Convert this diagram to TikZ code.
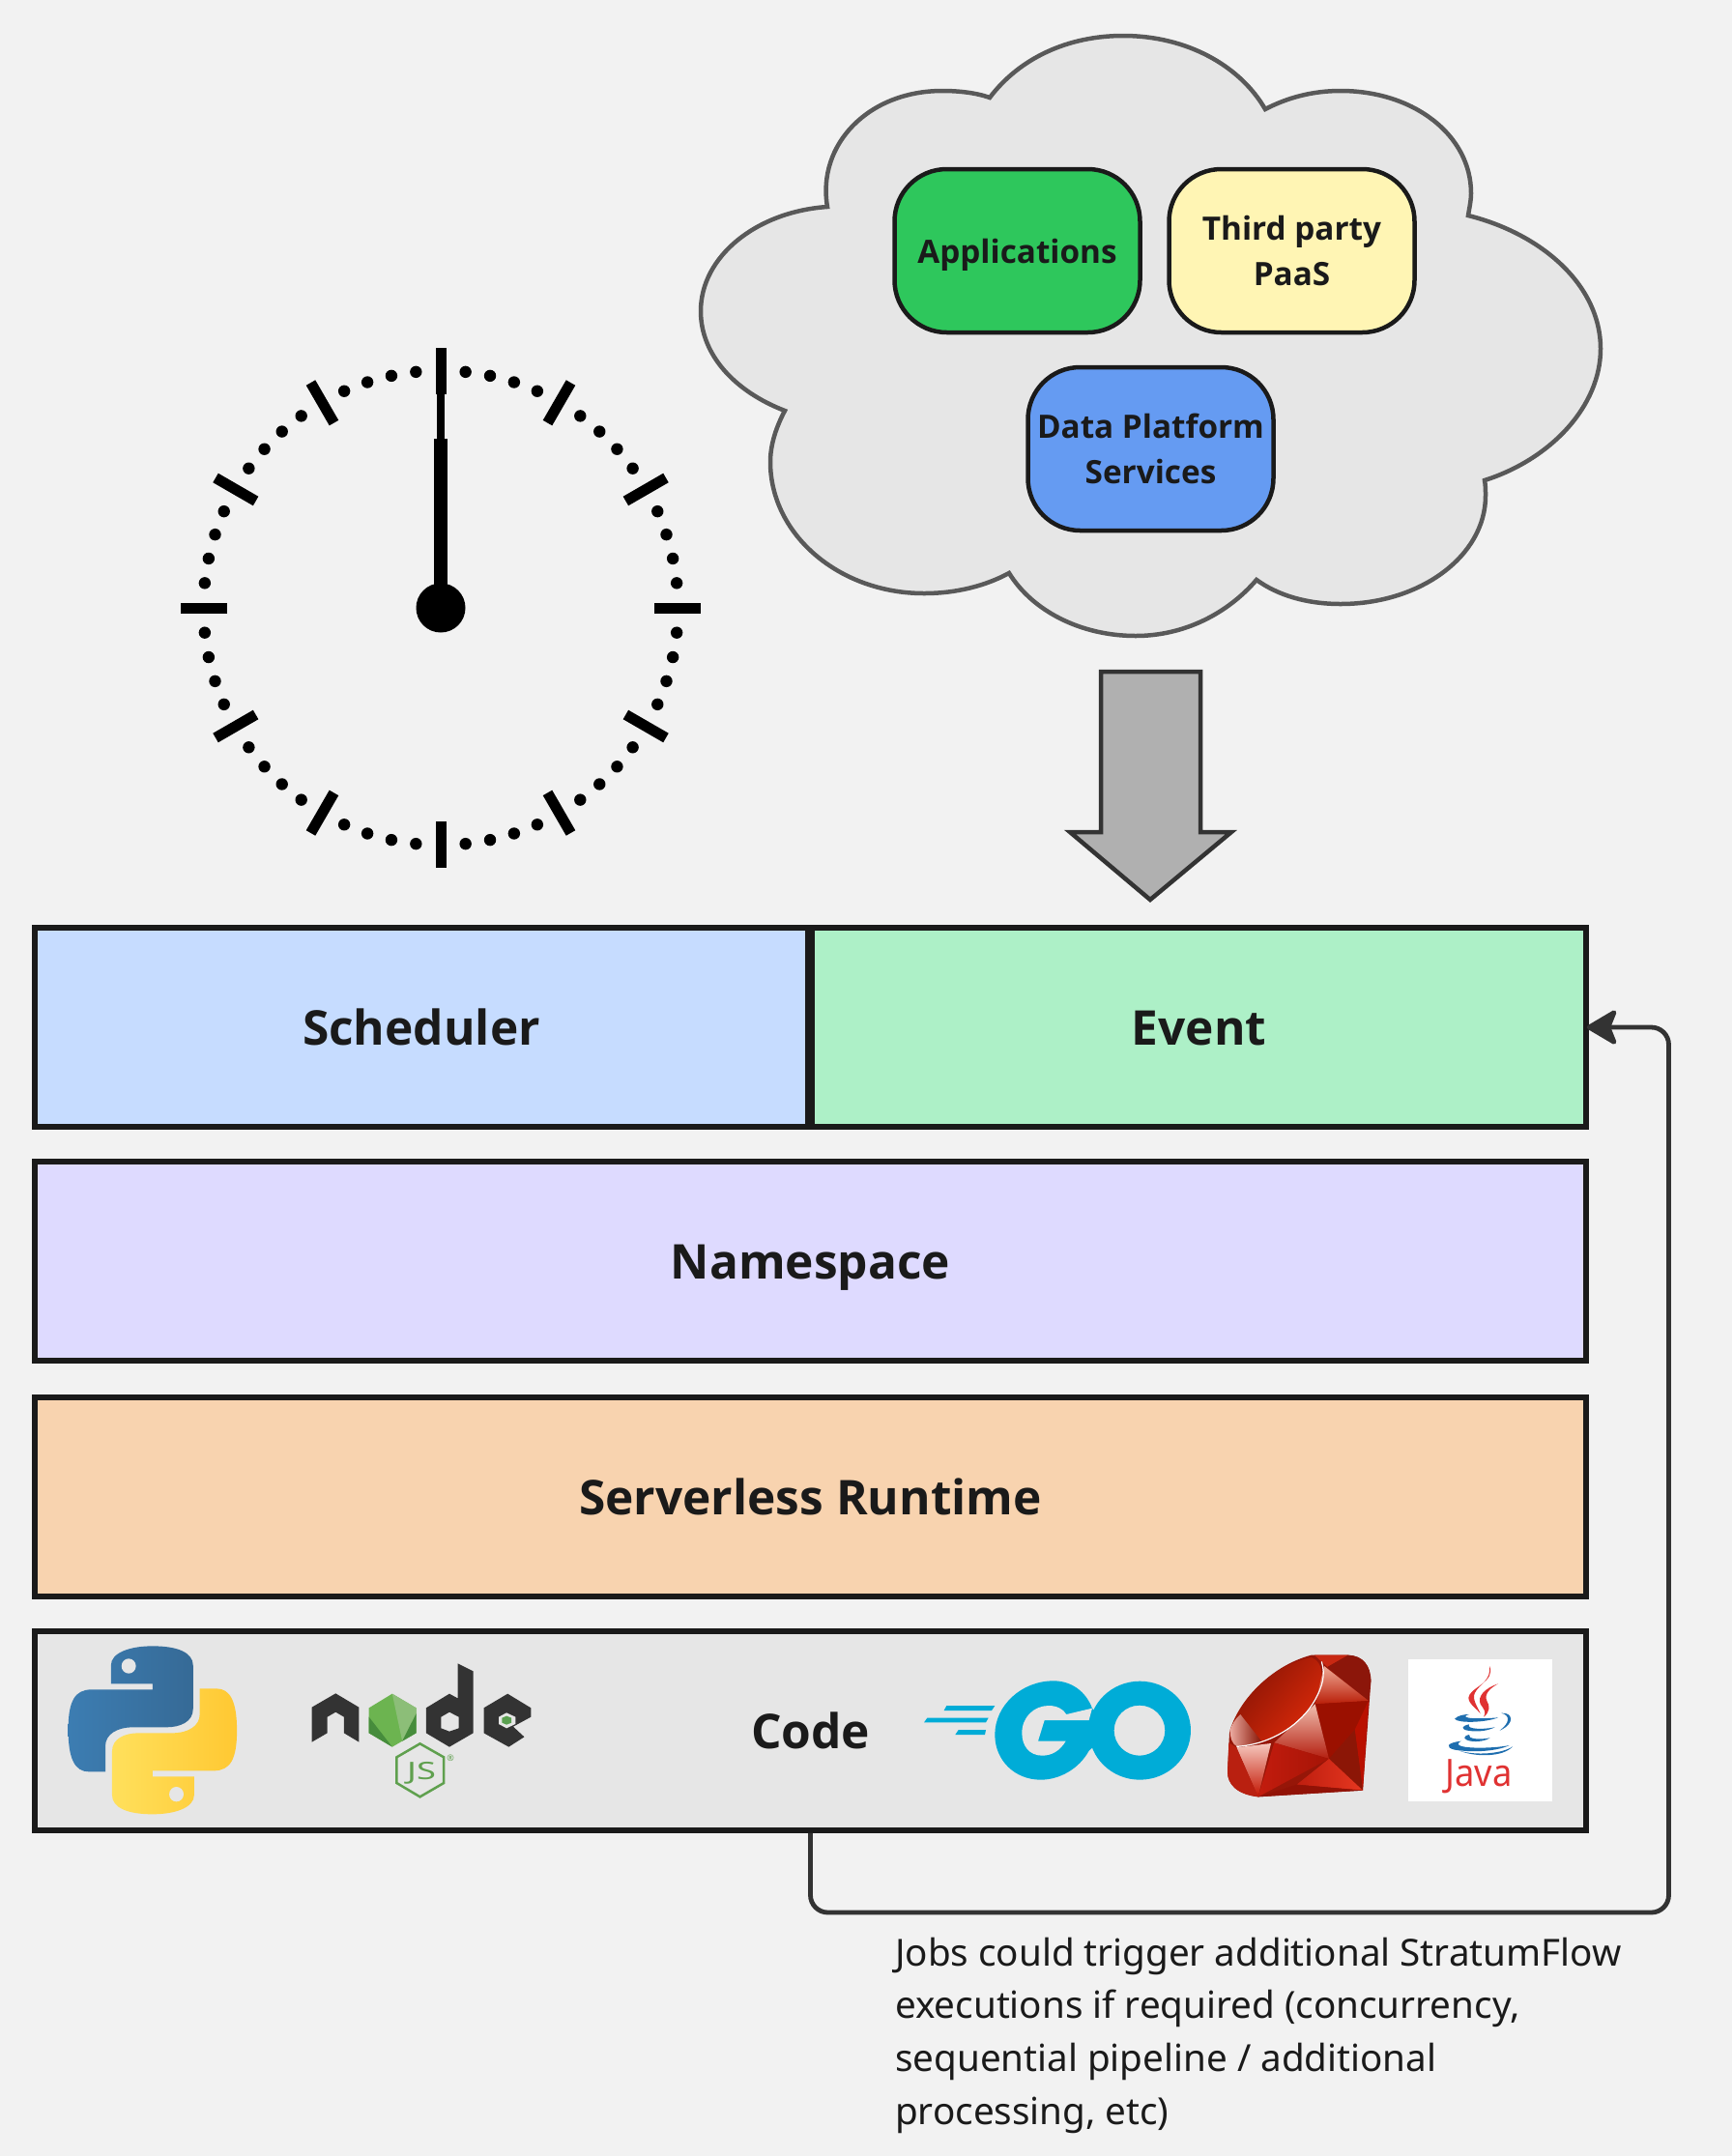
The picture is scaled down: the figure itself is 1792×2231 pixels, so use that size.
\documentclass[tikz,border=0pt]{standalone}
\usepackage{fontspec}
\IfFontExistsTF{Open Sans Bold}{\setmainfont{Noto Sans}[BoldFont={Open Sans Bold}]}{\setmainfont{Noto Sans}[BoldFont={Noto Sans},BoldFeatures={FakeBold=2.2}]}
\usetikzlibrary{arrows.meta,calc}
\definecolor{bgc}{HTML}{F2F2F2}
\definecolor{ink}{HTML}{1A1A1A}
\definecolor{greyfill}{HTML}{E6E6E6}
\definecolor{goc}{HTML}{00ACD7}
\definecolor{nodedark}{HTML}{333333}
\definecolor{nodegreen}{HTML}{5FA04E}
\definecolor{pyb1}{RGB}{60,125,178}
\definecolor{pyb2}{RGB}{54,106,150}
\definecolor{pyy1}{RGB}{255,200,50}
\definecolor{pyy2}{RGB}{255,224,92}
\definecolor{appc}{RGB}{46,199,92}
\definecolor{paasc}{RGB}{255,245,180}
\definecolor{datac}{RGB}{101,155,242}
\definecolor{schedc}{RGB}{198,220,255}
\definecolor{eventc}{RGB}{173,240,199}
\definecolor{nsc}{RGB}{222,218,255}
\definecolor{rtc}{RGB}{248,211,175}
\definecolor{javar}{RGB}{224,50,50}
\definecolor{javab}{RGB}{30,110,175}
\definecolor{n1}{RGB}{108,180,80}
\definecolor{n2}{RGB}{140,190,120}
\definecolor{n3}{RGB}{70,140,60}
\definecolor{n4}{RGB}{90,160,80}
\definecolor{rA}{RGB}{150,22,8}
\definecolor{rB}{RGB}{235,170,160}
\definecolor{rC}{RGB}{135,20,4}
\definecolor{rD}{RGB}{222,42,10}
\definecolor{rE}{RGB}{200,40,18}
\definecolor{rF}{RGB}{140,22,10}
\definecolor{rG}{RGB}{240,170,150}
\definecolor{rH}{RGB}{185,30,8}
\definecolor{rI}{RGB}{155,16,0}
\definecolor{rJ}{RGB}{185,16,0}
\definecolor{rK}{RGB}{140,22,6}
\definecolor{rL}{RGB}{240,190,175}
\definecolor{rM}{RGB}{180,30,15}
\definecolor{rN}{RGB}{195,28,14}
\definecolor{rO}{RGB}{165,20,6}
\definecolor{rP}{RGB}{190,30,15}
\definecolor{rQ}{RGB}{230,55,32}
\definecolor{rR}{RGB}{145,18,6}
\definecolor{rS}{RGB}{245,200,190}
\definecolor{rT}{RGB}{195,20,0}
\definecolor{rU}{RGB}{185,32,16}
\tikzset{
  layer/.style={draw=ink,line width=5.5pt,inner sep=0pt,text=ink,text height=37pt,text depth=0pt,font=\fontsize{49.6}{58}\selectfont\bfseries,align=center},
  pill/.style={draw=ink,line width=4.5pt,rounded corners=54pt,minimum width=254pt,minimum height=169pt,inner sep=0pt,text=ink,font=\fontsize{33.3}{46.5}\selectfont\bfseries,align=center},
  tick/.style={line width=11pt,black},
  pyblue/.style={insert path={(200,247) -- (200,190) .. controls (200,150) and (235,130) .. (275,130) .. controls (320,130) and (348,150) .. (348,190)
  -- (348,325) .. controls (348,365) and (325,382) .. (300,382) -- (240,382) .. controls (210,382) and (190,405) .. (190,440) -- (190,520)
  -- (160,520) .. controls (135,520) and (123,480) .. (123,390) .. controls (123,300) and (135,265) .. (165,265) -- (275,265) -- (275,247) -- cycle}},
}
\begin{document}
\begin{tikzpicture}[x=1pt,y=-1pt]
\fill[bgc] (0,0) rectangle (1792,2231);
\useasboundingbox (0,0) rectangle (1792,2231);

% cloud
\draw[fill=greyfill,draw=black!65,line width=4.5pt,line join=miter]
 (856,214) .. controls (845,150) and (898,94) .. (975,94) .. controls (992,94) and (1010,96) .. (1024,101)
 .. controls (1055,60) and (1105,37) .. (1162,37) .. controls (1228,37) and (1283,68) .. (1309,113)
 .. controls (1332,101) and (1358,94) .. (1387,94) .. controls (1463,94) and (1522,140) .. (1522,200) .. controls (1522,208) and (1520,216) .. (1519,223)
 .. controls (1595,242) and (1656,295) .. (1656,361) .. controls (1656,420) and (1605,475) .. (1536,497)
 .. controls (1537,502) and (1537,508) .. (1537,513) .. controls (1537,575) and (1470,625) .. (1387,625) .. controls (1352,625) and (1322,616) .. (1300,600)
 .. controls (1270,635) and (1225,658) .. (1175,658) .. controls (1118,658) and (1068,632) .. (1044,593)
 .. controls (1020,606) and (990,614) .. (956,614) .. controls (868,614) and (797,553) .. (797,478) .. controls (797,460) and (803,442) .. (812,425)
 .. controls (760,405) and (725,367) .. (725,322) .. controls (725,265) and (783,219) .. (856,214) -- cycle;

\node[pill,fill=appc,text height=25pt,text depth=0pt] (apps) at (1052.5,259.5) {Applications};
\node[pill,fill=paasc] (paas) at (1336.5,259.5) {Third party\\PaaS};
\node[pill,fill=datac] (data) at (1190.5,464.5) {Data Platform\\Services};

% block arrow
\draw[fill=black!31,draw=black!80,line width=4.5pt,line join=miter]
 (1139,695) -- (1242,695) -- (1242,861) -- (1274,861) -- (1190,931) -- (1107,861) -- (1139,861) -- cycle;

% clock
\begin{scope}[shift={(456,629)}]
\foreach \a in {0,6,...,354}{
  \pgfmathtruncatemacro{\m}{mod(\a,30)}
  \ifnum\m=0
    \draw[tick] (\a:221) -- (\a:269);
  \else
    \fill[black] (\a:245.5) circle (6.2);
  \fi
}
\fill[black] (-7.25,-175) rectangle (7.25,0);
\fill[black] (-4,-225) rectangle (4,-170);
\fill[black] (0,0) circle (25.5);
\end{scope}

% layers
\node[layer,fill=schedc,minimum width=800pt,minimum height=206pt] (sched) at (436,1063) {Scheduler};
\node[layer,fill=eventc,minimum width=801pt,minimum height=206pt] (event) at (1240.5,1063) {Event};
\node[layer,fill=nsc,minimum width=1605pt,minimum height=206pt] (ns) at (838.5,1305) {Namespace};
\node[layer,fill=rtc,minimum width=1605pt,minimum height=206pt] (rt) at (838.5,1549) {Serverless Runtime};
\node[layer,fill=greyfill,minimum width=1605pt,minimum height=206pt] (code) at (838.5,1791) {Code};

% python + node (zoom coordinates)
\begin{scope}[shift={(0,1660)},xscale=0.574,yscale=0.3333]
\path[pyblue,left color=pyb1,right color=pyb2];
\fill[greyfill] (232,192) ellipse (13 and 23);
\begin{scope}[shift={(550,782)},xscale=-1,yscale=-1]
\path[pyblue,left color=pyy2,right color=pyy1];
\fill[greyfill] (232,192) ellipse (13 and 23);
\end{scope}
\fill[nodedark] (562,320) -- (605,277) -- (647,320) -- (647,428) -- (620,400) -- (620,350) -- (605,335) -- (590,350) -- (590,400) -- (562,428) -- cycle;
\fill[n1] (707,278) -- (750,322) -- (750,400) -- (707,443) -- (665,400) -- (665,322) -- cycle;
\fill[n2] (707,278) -- (750,322) -- (750,400) -- (725,425) -- cycle;
\fill[n3] (665,350) -- (707,443) -- (665,400) -- cycle;
\fill[n3] (725,425) -- (750,400) -- (750,340) -- cycle;
\fill[nodedark,even odd rule] (768,322) -- (810,278) -- (825,292) -- (825,184) -- (853,208) -- (853,400) -- (810,443) -- (768,400) -- cycle
  (810,335) -- (827,350) -- (827,385) -- (810,395) -- (795,385) -- (795,350) -- cycle;
\fill[nodedark] (872,322) -- (915,278) -- (957,322) -- (957,350) -- (925,380) -- (945,412) -- (917,443) -- (872,400) -- cycle;
\fill[greyfill] (913,337) -- (929,350) -- (929,372) -- (913,385) -- (899,372) -- (899,350) -- cycle;
\fill[n4] (913,347) -- (922,353) -- (922,368) -- (913,374) -- (905,368) -- (905,353) -- cycle;
\draw[nodegreen,line width=2.5pt,line join=miter] (757,433) -- (800,475) -- (800,555) -- (757,598) -- (715,555) -- (715,475) -- cycle;
\end{scope}
\node[text=nodegreen,inner sep=0pt,xscale=1.45,font=\fontsize{25}{28}\selectfont] (js) at (436,1835) {JS};
\node[text=nodegreen,inner sep=0pt,font=\fontsize{9}{10}\selectfont] (reg) at (466,1819) {®};

% go
\begin{scope}[shift={(950,1700)},x=0.3333pt,y=-0.3333pt]
\fill[goc] (540,203) .. controls (520,150) and (475,118) .. (420,118) .. controls (320,118) and (238,195) .. (238,285) .. controls (238,365) and (300,425) .. (380,425) .. controls (440,425) and (500,390) .. (530,335) -- (600,272) -- cycle;
\fill[greyfill] (460,222) -- (540,203) -- (530,240) -- (392,240) -- (372,305) -- (458,305) .. controls (440,335) and (415,350) .. (385,350) .. controls (345,350) and (322,320) .. (322,280) .. controls (322,230) and (360,195) .. (405,195) .. controls (430,195) and (450,205) .. (460,222) -- cycle;
\fill[goc,even odd rule] (688,272) ellipse (158 and 153) (687,272) ellipse (79 and 78);
\fill[goc] (88,195) -- (238,195) -- (228,210) -- (80,210) -- cycle;
\fill[goc] (28,233) -- (218,233) -- (210,247) -- (18,247) -- cycle;
\fill[goc] (125,270) -- (210,270) -- (207,285) -- (115,285) -- cycle;
\end{scope}

% ruby
\begin{scope}[shift={(1260,1700)},x=0.3333pt,y=-0.3333pt]
\fill[rA] (290,38) -- (405,38) .. controls (450,40) and (475,70) .. (475,120) -- (450,458) -- (125,478) .. controls (60,470) and (30,440) .. (30,400) -- (36,280) .. controls (70,170) and (170,70) .. (290,38) -- cycle;
\path[left color=rC,right color=rD,shading angle=50]
  (38,270) .. controls (70,170) and (170,70) .. (290,45) .. controls (330,60) and (330,110) .. (305,165) .. controls (270,240) and (170,315) .. (60,322) .. controls (45,315) and (38,295) .. (38,270) -- cycle;
\path[left color=rB,right color=rC]
  (38,270) .. controls (45,250) and (55,235) .. (70,222) -- (135,305) .. controls (110,315) and (85,320) .. (60,322) .. controls (45,315) and (38,295) .. (38,270) -- cycle;
\fill[rE] (300,38) -- (405,38) -- (340,75) -- cycle;
\fill[rF] (340,75) -- (405,38) .. controls (450,40) and (475,70) .. (475,120) -- (468,180) -- cycle;
\path[top color=rG,bottom color=rH] (330,72) -- (468,180) -- (302,190) -- cycle;
\fill[rI] (302,190) -- (468,180) -- (425,270) -- (345,360) -- cycle;
\fill[rJ] (468,180) -- (450,458) -- (425,270) -- cycle;
\fill[rK] (425,270) -- (450,458) -- (345,360) -- cycle;
\path[top color=rL,bottom color=rM] (302,190) -- (345,360) -- (175,310) -- cycle;
\path[left color=rN,right color=rO] (175,310) -- (345,360) -- (125,478) -- cycle;
\path[left color=rP,right color=rQ] (345,360) -- (450,458) -- (245,440) -- cycle;
\fill[rR] (245,440) -- (450,458) -- (125,478) -- cycle;
\path[top color=rS,bottom color=rT] (58,325) -- (165,312) -- (125,478) -- cycle;
\fill[rU] (34,310) -- (58,325) -- (125,478) .. controls (60,470) and (30,440) .. (30,400) -- cycle;
\draw[white,line width=1.2pt] (322,58) .. controls (335,100) and (325,135) .. (300,180) .. controls (260,250) and (170,315) .. (58,322);
\end{scope}

% java
\begin{scope}[shift={(1440,1700)},x=0.3333pt,y=-0.3333pt]
\fill[white] (52,50) rectangle (497,493);
\fill[javar] (303,72) .. controls (325,120) and (240,140) .. (238,170) .. controls (238,190) and (265,205) .. (275,220) .. controls (265,195) and (248,175) .. (258,155) .. controls (270,130) and (310,115) .. (303,72) -- cycle;
\fill[javar] (330,127) .. controls (290,140) and (265,165) .. (275,190) .. controls (285,205) and (295,215) .. (285,230) .. controls (305,215) and (305,195) .. (295,180) .. controls (285,160) and (305,140) .. (330,127) -- cycle;
\fill[javab] (195,236) .. controls (205,225) and (225,222) .. (240,222) .. controls (215,228) and (225,240) .. (330,232) .. controls (290,248) and (205,250) .. (195,236) -- cycle;
\fill[javab] (340,218) .. controls (375,215) and (385,250) .. (335,272) .. controls (365,250) and (370,225) .. (340,218) -- cycle;
\fill[javab] (240,253) .. controls (215,258) and (215,268) .. (235,272) .. controls (270,278) and (300,272) .. (320,262) .. controls (280,270) and (230,268) .. (240,253) -- cycle;
\fill[javab] (240,285) .. controls (220,290) and (220,300) .. (245,305) .. controls (265,308) and (290,305) .. (305,295) .. controls (270,302) and (235,298) .. (240,285) -- cycle;
\fill[javab] (215,305) .. controls (170,310) and (165,325) .. (195,332) .. controls (260,342) and (330,335) .. (365,318) .. controls (310,330) and (170,330) .. (215,305) -- cycle;
\fill[javab] (210,335) .. controls (260,350) and (340,345) .. (375,322) .. controls (345,355) and (260,355) .. (210,335) -- cycle;
\end{scope}
\node[text=javar,inner sep=0pt,xscale=0.93,anchor=base,font=\fontsize{39}{44}\selectfont] (javat) at (1530,1848) {Java};

% connector
\coordinate (c1) at (838.5,1979);
\coordinate (c2) at (1726.5,1979);
\coordinate (c3) at (1726.5,1063);
\draw[draw=black!80,line width=4.8pt,rounded corners=18pt,shorten >=-2pt,-{Stealth[length=35pt,width=41pt,inset=8pt,round]}]
  (code.south) -- (c1) -- (c2) -- (c3) -- (event.east);

% note
\node[anchor=north west,inner sep=0pt,text=ink,align=left,font=\fontsize{38.6}{54.7}\selectfont] (note) at (926,2004.5)
 {Jobs could trigger additional StratumFlow\\executions if required (concurrency,\\sequential pipeline / additional\\processing, etc)};
\end{tikzpicture}
\end{document}
